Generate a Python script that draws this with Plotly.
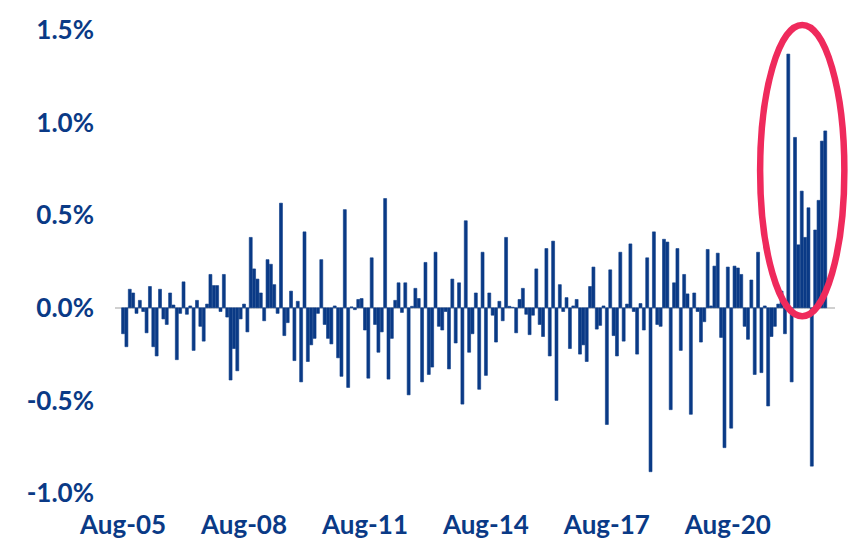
import pandas as pd
import plotly.graph_objects as go

start_month = "2005-08-01"
values = [
    -0.14, -0.21, 0.10, 0.08, -0.03, 0.04, -0.02, -0.135, 0.115, -0.21,
    -0.26, 0.10, -0.06, -0.09, 0.08, 0.015, -0.28, -0.03, 0.14, -0.035,
    0.01, -0.23, 0.04, -0.10, -0.18, 0.02, 0.18, 0.12, 0.12, -0.02,
    0.18, -0.05, -0.39, -0.22, -0.34, -0.06, 0.02, -0.13, 0.38, 0.21,
    0.155, 0.08, -0.07, 0.26, 0.235, 0.125, -0.03, 0.565, -0.15, -0.08,
    0.09, -0.285, 0.035, -0.40, 0.41, -0.29, -0.20, -0.165, -0.03, 0.26,
    -0.09, -0.165, -0.195, 0.01, -0.27, -0.37, 0.53, -0.43, 0.005, -0.01,
    0.045, 0.05, -0.12, -0.38, 0.27, -0.09, -0.24, -0.13, 0.59, -0.385,
    -0.165, 0.04, 0.135, -0.025, 0.135, -0.47, 0.008, 0.105, 0.05, -0.40,
    0.245, -0.36, -0.32, 0.30, -0.10, -0.12, -0.02, -0.33, 0.155, -0.19,
    0.135, -0.52, 0.47, -0.24, -0.14, 0.08, -0.44, 0.30, -0.365, 0.08,
    -0.04, -0.185, 0.035, -0.07, 0.38, 0.008, 0.003, -0.135, 0.045, 0.105,
    -0.035, -0.145, -0.04, 0.21, -0.09, -0.155, 0.32, -0.26, 0.36, -0.50,
    0.125, -0.02, 0.055, -0.22, 0.01, 0.045, -0.25, -0.20, -0.29, 0.115,
    0.22, -0.115, -0.095, 0.01, -0.63, 0.205, -0.15, -0.26, 0.30, -0.18,
    0.02, 0.345, -0.02, -0.25, 0.023, -0.12, 0.27, -0.885, 0.41, -0.09,
    -0.10, 0.37, 0.355, -0.55, 0.135, 0.32, -0.23, 0.18, 0.075, -0.575,
    0.08, -0.02, -0.185, -0.075, 0.315, 0.01, 0.225, 0.295, -0.16, -0.755,
    0.22, -0.65, 0.225, 0.215, 0.18, -0.10, -0.17, 0.15, -0.36, 0.30,
    -0.35, 0.01, -0.53, -0.155, -0.10, 0.02, 0.09, -0.14, 1.37, -0.40,
    0.92, 0.34, 0.63, 0.38, 0.54, -0.855, 0.42, 0.58, 0.90, 0.955,
]
months = pd.date_range(start_month, periods=len(values), freq="MS")
month_labels = [m.strftime("%b-%y") for m in months]
x_index = list(range(len(values)))

x_tick_labels = ["Aug-05", "Aug-08", "Aug-11", "Aug-14", "Aug-17", "Aug-20"]
x_tick_pos = [month_labels.index(t) for t in x_tick_labels]
y_ticks = [-1.0, -0.5, 0.0, 0.5, 1.0, 1.5]
y_tick_labels = ["-1.0%", "-0.5%", "0.0%", "0.5%", "1.0%", "1.5%"]

navy = "#0a3a86"
red = "#ef2a5c"

fig = go.Figure(
    go.Bar(
        x=x_index,
        y=values,
        width=0.88,
        customdata=month_labels,
        hovertemplate="%{customdata}: %{y:.2f}%<extra></extra>",
        marker=dict(color=navy, line=dict(width=0.6, color=navy)),
    )
)

fig.update_layout(
    width=858,
    height=546,
    margin=dict(l=115, r=23, t=30, b=53),
    plot_bgcolor="white",
    paper_bgcolor="white",
    showlegend=False,
    font=dict(family="Lato", color=navy),
    xaxis=dict(
        range=[-2.4, 211.9],
        tickvals=x_tick_pos,
        ticktext=x_tick_labels,
        showgrid=False,
        zeroline=False,
        showline=False,
        ticks="",
        automargin=False,
        ticklabelstandoff=14,
        tickfont=dict(family="Lato", size=26, color=navy, weight="bold"),
    ),
    yaxis=dict(
        range=[-1.0, 1.5],
        tickvals=y_ticks,
        ticktext=y_tick_labels,
        showgrid=False,
        zeroline=True,
        zerolinecolor="#d0d0d0",
        zerolinewidth=2,
        showline=False,
        ticks="",
        automargin=False,
        ticklabelstandoff=20,
        tickfont=dict(family="Lato", size=26, color=navy, weight="bold"),
    ),
    shapes=[
        dict(
            type="circle",
            xref="paper",
            yref="paper",
            x0=0.896,
            x1=1.013,
            y0=0.382,
            y1=1.011,
            line=dict(color=red, width=6.5),
            layer="above",
        )
    ],
)

fig.write_html(
    "out.html",
    config={"displayModeBar": False},
    post_script="document.body.style.margin='0px';document.body.style.overflow='hidden';",
)
